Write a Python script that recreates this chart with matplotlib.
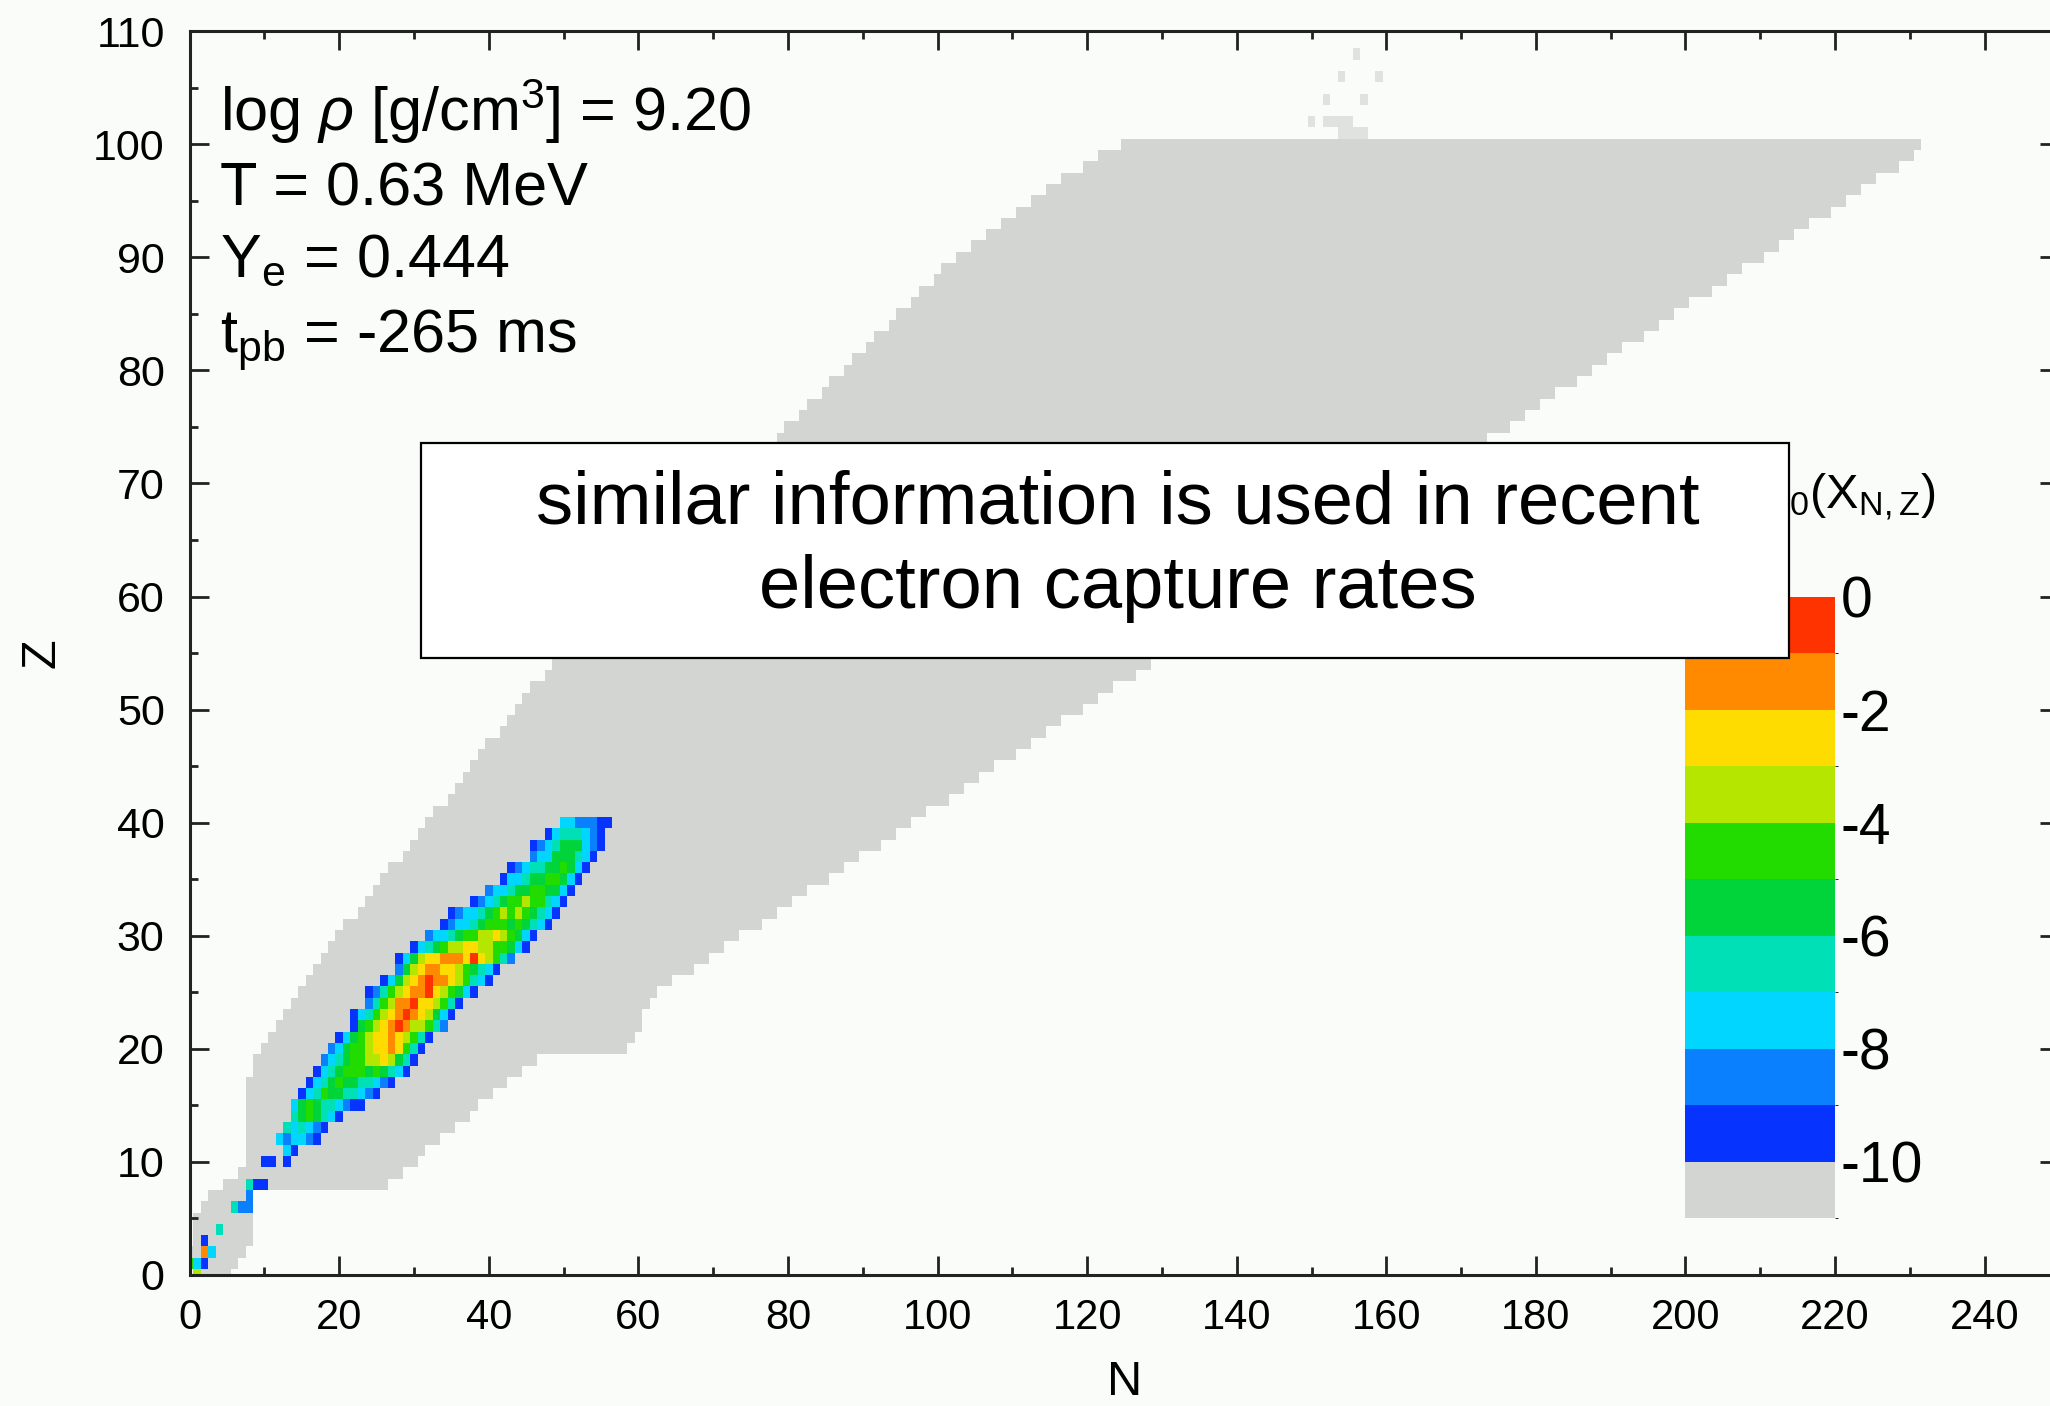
import numpy as np
import matplotlib
matplotlib.use("Agg")
import matplotlib.pyplot as plt
from matplotlib.colors import ListedColormap, BoundaryNorm
from matplotlib.patches import Rectangle
from matplotlib.ticker import MultipleLocator

plt.rcParams['font.family'] = 'Liberation Sans'
plt.rcParams['mathtext.fontset'] = 'custom'
plt.rcParams['mathtext.rm'] = 'Liberation Sans'
plt.rcParams['mathtext.it'] = 'Liberation Sans:italic'
plt.rcParams['axes.unicode_minus'] = False

# nuclear table: first and last neutron number for every Z = 0..100
table_z = np.arange(0, 101)
table_nmin = [1, 0, 0, 1, 1, 1, 2, 3, 5, 7,
              8, 8, 8, 8, 8, 8, 8, 8, 9, 9,
              10, 11, 12, 13, 14, 15, 16, 17, 18, 19,
              20, 21, 23, 24, 25, 26, 27, 29, 30, 31,
              32, 33, 35, 36, 37, 38, 39, 40, 42, 43,
              44, 45, 46, 48, 49, 50, 52, 53, 55, 56,
              58, 59, 61, 62, 64, 65, 67, 68, 70, 71,
              73, 74, 76, 77, 79, 80, 82, 83, 85, 86,
              88, 89, 91, 92, 94, 95, 97, 98, 100, 101,
              103, 105, 107, 109, 111, 113, 115, 117, 120, 122,
              125]
table_nmax = [5, 6, 7, 8, 8, 8, 8, 8, 26, 28,
              30, 31, 33, 35, 37, 38, 40, 42, 44, 46,
              58, 59, 60, 60, 61, 62, 64, 67, 69, 71,
              73, 76, 78, 80, 82, 85, 87, 89, 92, 94,
              96, 98, 101, 103, 105, 107, 110, 112, 114, 116,
              119, 121, 123, 126, 128, 130, 132, 135, 137, 139,
              141, 144, 146, 148, 151, 153, 155, 157, 160, 162,
              164, 166, 169, 171, 173, 176, 178, 180, 182, 185,
              187, 189, 191, 194, 196, 198, 200, 203, 205, 207,
              210, 212, 214, 216, 219, 221, 223, 225, 228, 230,
              231]

# scattered superheavy entries above the table
extra_z = [101, 101, 101, 101, 102, 102, 102, 102, 102, 104, 104, 106, 106, 108]
extra_n = [154, 155, 156, 157, 150, 152, 153, 154, 155, 152, 157, 154, 159, 156]

# mass fractions per row: digit k means -(k+1) < log10 X <= -k, '.' is below -10
dist_z = [0, 1, 2, 3, 4, 6, 7, 8, 10, 11,
          12, 13, 14, 15, 16, 17, 18, 19, 20, 21,
          22, 23, 24, 25, 26, 27, 28, 29, 30, 31,
          32, 33, 34, 35, 36, 37, 38, 39, 40]
dist_n0 = [1, 0, 2, 2, 4, 6, 8, 8, 10, 13,
           12, 13, 14, 14, 15, 16, 17, 18, 19, 20,
           22, 22, 24, 24, 26, 28, 28, 30, 32, 34,
           35, 38, 40, 42, 43, 46, 46, 48, 50]
dist_codes = ["3", "479", "17", "9", "6", "688", "8", "699", "99.9", "79",
              "787789", "676789", "6545679", "7545667899", "97645566789",
              "976545566789", "9765444545679", "8765443323569",
              "8754432212469", "9754322123469", "9543210133468",
              "97643210123579", "8643110223469", "986432110234579",
              "975321011234679", "85321122345679", "9753221112023468",
              "9765433223344579", "877654433234579", "987765444545679",
              "987765434345679", "9876544344679", "877655445579",
              "97765544579", "98766554579", "877555679", "9876555789",
              "97666789", "7788899"]

levels = np.arange(-11, 1)
band_colors = ['#d3d5d3', '#0733ff', '#0a80ff', '#00d6ff', '#00e0b6',
               '#00d43a', '#22dc00', '#b4e600', '#ffdc00', '#ff8a00',
               '#ff3300']
cbar_ticks = [-10, -8, -6, -4, -2, 0]

bg = '#fafcfa'

# fill the (Z, N) grid
n_top, z_top = 250, 110
grid = np.full((z_top + 1, n_top + 1), np.nan)
for z, lo, hi in zip(table_z, table_nmin, table_nmax):
    grid[z, lo:hi + 1] = -10.5
for z, n0, codes in zip(dist_z, dist_n0, dist_codes):
    for i, c in enumerate(codes):
        if c != '.':
            grid[z, n0 + i] = -(int(c) + 0.5)
extra = np.full_like(grid, np.nan)
for z, n in zip(extra_z, extra_n):
    extra[z, n] = 1.0

cmap = ListedColormap(band_colors)
norm = BoundaryNorm(levels, cmap.N)
n_edges = np.arange(-0.5, n_top + 1)
z_edges = np.arange(-0.5, z_top + 1)

fig = plt.figure(figsize=(20.5, 14.06), dpi=100, facecolor=bg)
ax = fig.add_axes([0.0925, 0.0934, 0.9121, 0.8843], facecolor=bg)

mesh = ax.pcolormesh(n_edges, z_edges, np.ma.masked_invalid(grid),
                     cmap=cmap, norm=norm, shading='flat', antialiased=False)
ax.pcolormesh(n_edges, z_edges, np.ma.masked_invalid(extra),
              cmap=ListedColormap(['#e0e2e0']), shading='flat', antialiased=False)

ax.set_xlim(0, n_top)
ax.set_ylim(0, z_top)
ax.xaxis.set_major_locator(MultipleLocator(20))
ax.xaxis.set_minor_locator(MultipleLocator(10))
ax.yaxis.set_major_locator(MultipleLocator(10))
ax.yaxis.set_minor_locator(MultipleLocator(5))
ax.tick_params(which='both', direction='in', top=True, right=True,
               width=2, color='#222222')
ax.tick_params(which='major', length=14)
ax.tick_params(which='minor', length=6)
ax.tick_params(axis='x', labelsize=30, pad=17)
ax.tick_params(axis='y', labelsize=31, pad=18)
for sp in ax.spines.values():
    sp.set_linewidth(2.2)
    sp.set_color('#222222')

ax.set_xlabel('N', fontsize=35)
ax.set_ylabel('Z', fontsize=35)
ax.xaxis.set_label_coords(0.5, -0.069)
ax.yaxis.set_label_coords(-0.067, 0.5)

# conditions of the snapshot
info = [r'log $\rho$ [g/cm$^3$] = 9.20', 'T = 0.63 MeV',
        r'Y$_\mathrm{e}$ = 0.444', r't$_\mathrm{pb}$ = -265 ms']
info_z = [101.2, 94.6, 88.3, 81.6]
for s, z in zip(info, info_z):
    ax.text(4.0, z, s, fontsize=44, va='baseline', ha='left', zorder=6)

# colour key placed inside the plot area
cax = ax.inset_axes([200, 5, 20, 55], transform=ax.transData)
cb = fig.colorbar(mesh, cax=cax, ticks=cbar_ticks, format='%d')
cb.outline.set_visible(False)
cax.tick_params(length=0, labelsize=41, pad=4)
ax.text(233.4, 68.8, r'log$_{10}$(X$_\mathrm{N,Z}$)', fontsize=35,
        ha='right', va='center', zorder=5)

# overlay note
ax.add_patch(Rectangle((30.9, 54.6), 182.9, 19.0, facecolor='white',
                       edgecolor='black', linewidth=1.6, zorder=10))
ax.text(124.1, 66.5, 'similar information is used in recent', fontsize=53.5,
        ha='center', va='baseline', zorder=11)
ax.text(124.1, 59.0, 'electron capture rates', fontsize=53.5,
        ha='center', va='baseline', zorder=11)

fig.savefig('out.png', dpi=100, facecolor=bg)
